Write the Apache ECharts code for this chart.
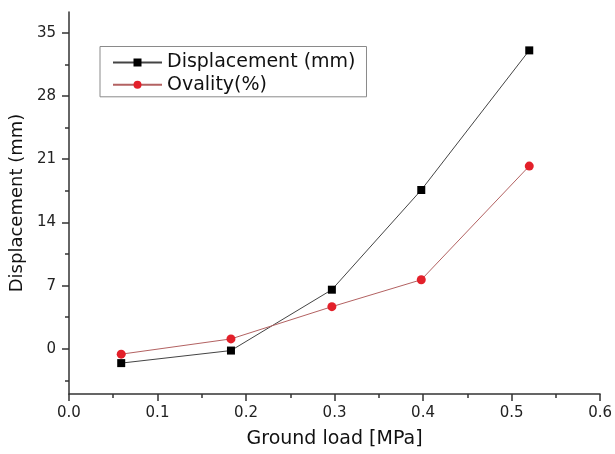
<!DOCTYPE html>
<html>
<head>
<meta charset="utf-8">
<script src="https://cdn.jsdelivr.net/npm/echarts@6/dist/echarts.min.js"></script>
<style>
html,body{margin:0;padding:0;background:#fff;}
#chart{width:615px;height:454px;}
</style>
</head>
<body>
<div id="chart"></div>
<script>
// Data
var groundLoad = [0.059, 0.183, 0.297, 0.398, 0.520];
var displacement = [-1.58, -0.19, 6.55, 17.59, 33.05];
var ovality = [-0.59, 1.10, 4.67, 7.65, 20.24];
var yTickValues = [0, 7, 14, 21, 28, 35];
var yMinorTickValues = [-3.5, 3.5, 10.5, 17.5, 24.5, 31.5];
var seriesNames = ['Displacement (mm)', 'Ovality(%)'];
var xTitle = 'Ground load [MPa]';
var yTitle = 'Displacement (mm)';

function pairs(xs, ys) { return xs.map(function (x, i) { return [x, ys[i]]; }); }

var FONT = 'DejaVu Sans';
var chart = echarts.init(document.getElementById('chart'), null, {renderer: 'canvas'});
chart.setOption({
  animation: false,
  backgroundColor: '#fff',
  grid: {left: 67.5, right: 14, top: 12, bottom: 59, containLabel: false},
  legend: {
    orient: 'vertical',
    left: 100, top: 46.5,
    padding: [6.5, 11, 2.5, 12],
    itemGap: 3.3,
    itemWidth: 49, itemHeight: 10,
    borderColor: '#8a8a8a', borderWidth: 1,
    backgroundColor: '#fff',
    textStyle: {fontFamily: FONT, fontSize: 19, color: '#111'},
    data: seriesNames
  },
  xAxis: {
    type: 'value', min: 0, max: 0.6, interval: 0.1,
    name: xTitle, nameLocation: 'middle', nameGap: 36,
    nameTextStyle: {fontFamily: FONT, fontSize: 19, color: '#111'},
    axisLine: {show: true, onZero: false, lineStyle: {color: '#333', width: 1.5}},
    axisTick: {show: true, inside: false, length: 7, lineStyle: {color: '#333', width: 1.5}},
    minorTick: {show: true, splitNumber: 2, length: 4, lineStyle: {color: '#333', width: 1.5}},
    axisLabel: {fontFamily: FONT, fontSize: 15, color: '#222', margin: 12,
      formatter: function (v) { return v.toFixed(1); }},
    splitLine: {show: false}
  },
  yAxis: [{
    type: 'value', min: -5, max: 37.3,
    name: yTitle, nameLocation: 'middle', nameGap: 40,
    nameTextStyle: {fontFamily: FONT, fontSize: 18, color: '#111'},
    axisLine: {show: true, onZero: false, lineStyle: {color: '#333', width: 1.5}},
    axisTick: {show: true, inside: false, length: 7, customValues: yTickValues, lineStyle: {color: '#333', width: 1.5}},
    axisLabel: {fontFamily: FONT, fontSize: 15, color: '#222', margin: 13, customValues: yTickValues},
    splitLine: {show: false}
  }, {
    type: 'value', min: -5, max: 37.3, position: 'left',
    axisLine: {show: false, onZero: false},
    axisTick: {show: true, inside: false, length: 4, customValues: yMinorTickValues, lineStyle: {color: '#333', width: 1.5}},
    axisLabel: {show: false, customValues: yMinorTickValues},
    splitLine: {show: false}
  }],
  series: [{
    name: seriesNames[0], type: 'line', yAxisIndex: 0,
    data: pairs(groundLoad, displacement),
    symbol: 'rect', symbolSize: 8,
    itemStyle: {color: '#000'},
    lineStyle: {color: '#444', width: 1}
  }, {
    name: seriesNames[1], type: 'line', yAxisIndex: 0,
    data: pairs(groundLoad, ovality),
    symbol: 'circle', symbolSize: 9,
    itemStyle: {color: '#e3202a'},
    lineStyle: {color: '#b36262', width: 1}
  }]
});
</script>
</body>
</html>
